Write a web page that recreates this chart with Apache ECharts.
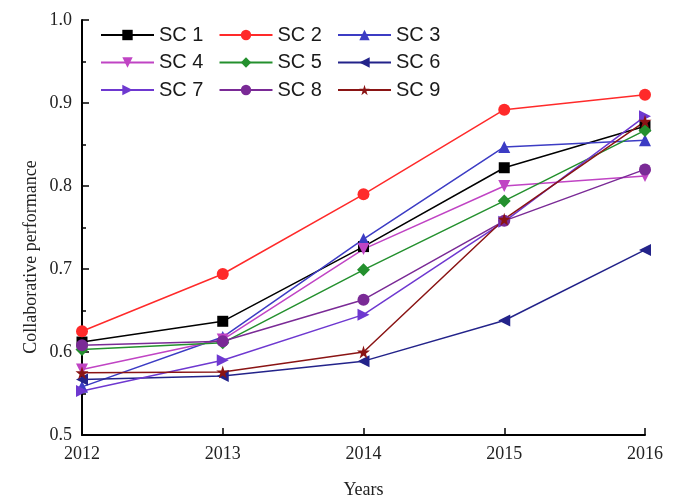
<!DOCTYPE html>
<html><head><meta charset="utf-8">
<script src="https://cdn.jsdelivr.net/npm/echarts@6/dist/echarts.min.js"></script>
<style>html,body{margin:0;padding:0;background:#fff;}#c{width:676px;height:504px;}</style>
</head><body><div id="c"></div>
<script>
const years = ['2012','2013','2014','2015','2016'];
const names = ['SC 1','SC 2','SC 3','SC 4','SC 5','SC 6','SC 7','SC 8','SC 9'];
const sc1 = [0.612, 0.637, 0.727, 0.822, 0.872];
const sc2 = [0.625, 0.694, 0.790, 0.892, 0.910];
const sc3 = [0.558, 0.618, 0.736, 0.847, 0.855];
const sc4 = [0.579, 0.615, 0.724, 0.800, 0.812];
const sc5 = [0.603, 0.611, 0.699, 0.782, 0.867];
const sc6 = [0.567, 0.571, 0.589, 0.638, 0.723];
const sc7 = [0.553, 0.590, 0.645, 0.757, 0.884];
const sc8 = [0.608, 0.613, 0.663, 0.758, 0.820];
const sc9 = [0.575, 0.576, 0.600, 0.760, 0.878];
const values = [sc1, sc2, sc3, sc4, sc5, sc6, sc7, sc8, sc9];
const yTitle = 'Collaborative performance';

const colors = ['#000000','#ff2a2a','#3c3cc4','#c044c4','#24902e','#23238a','#6e38d0','#7a2a96','#8a1414'];
const star = 'path://M50,0 L61,35 L98,35 L68,57 L79,91 L50,70 L21,91 L32,57 L2,35 L39,35 Z';
const symbols = ['rect','circle','triangle','triangle','diamond','triangle','triangle','circle',star];
const rotates = [0,0,0,180,0,90,-90,0,0];
const sizes = [11,12,12,12,13,12,12,12,13];

const chart = echarts.init(document.getElementById('c'));
const series = names.map((n,i)=>({
  name:n, type:'line', data:values[i],
  symbol:symbols[i], symbolRotate:rotates[i], symbolSize:sizes[i],
  lineStyle:{width:1.5,color:colors[i]}, itemStyle:{color:colors[i]},
  emphasis:{disabled:true}
}));
const legends = names.map((n,i)=>({
  data:[n], orient:'horizontal',
  left: 100 + (i%3)*118.5, top: 25 + Math.floor(i/3)*27.5,
  padding:0, itemWidth:53, itemHeight:13, itemGap:5,
  textStyle:{fontFamily:'Liberation Sans', fontSize:20, color:'#1a1a1a', padding:[0,0,0,0]}
}));
chart.setOption({
  animation:false,
  backgroundColor:'#fff',
  legend: legends,
  graphic:[{type:'text', x:31, y:257, rotation:Math.PI/2,
    style:{text:yTitle, fontFamily:'Liberation Serif', fontSize:18, fill:'#222',
      align:'center', verticalAlign:'middle'}}],
  grid:{left:82, right:31, top:20, bottom:67, containLabel:false},
  xAxis:{type:'category', data:years, boundaryGap:false,
    name:'Years', nameLocation:'middle', nameGap:46,
    nameTextStyle:{fontFamily:'Liberation Serif', fontSize:18, color:'#222'},
    axisLine:{lineStyle:{color:'#000', width:2}},
    axisTick:{inside:true, length:7, lineStyle:{color:'#000', width:1.5}},
    axisLabel:{fontFamily:'Liberation Serif', fontSize:18, color:'#222', margin:10},
    splitLine:{show:false}
  },
  yAxis:{type:'value', min:0.5, max:1.0, interval:0.1,
    axisLine:{show:true, lineStyle:{color:'#000', width:2}},
    axisTick:{show:true, inside:true, length:7, lineStyle:{color:'#000', width:1.5}},
    minorTick:{show:true, splitNumber:2, length:4, lineStyle:{color:'#000', width:1.5}},
    axisLabel:{fontFamily:'Liberation Serif', fontSize:18, color:'#222', margin:10,
      formatter:v=>v.toFixed(1)},
    splitLine:{show:false}
  },
  series: series
});
</script></body></html>
